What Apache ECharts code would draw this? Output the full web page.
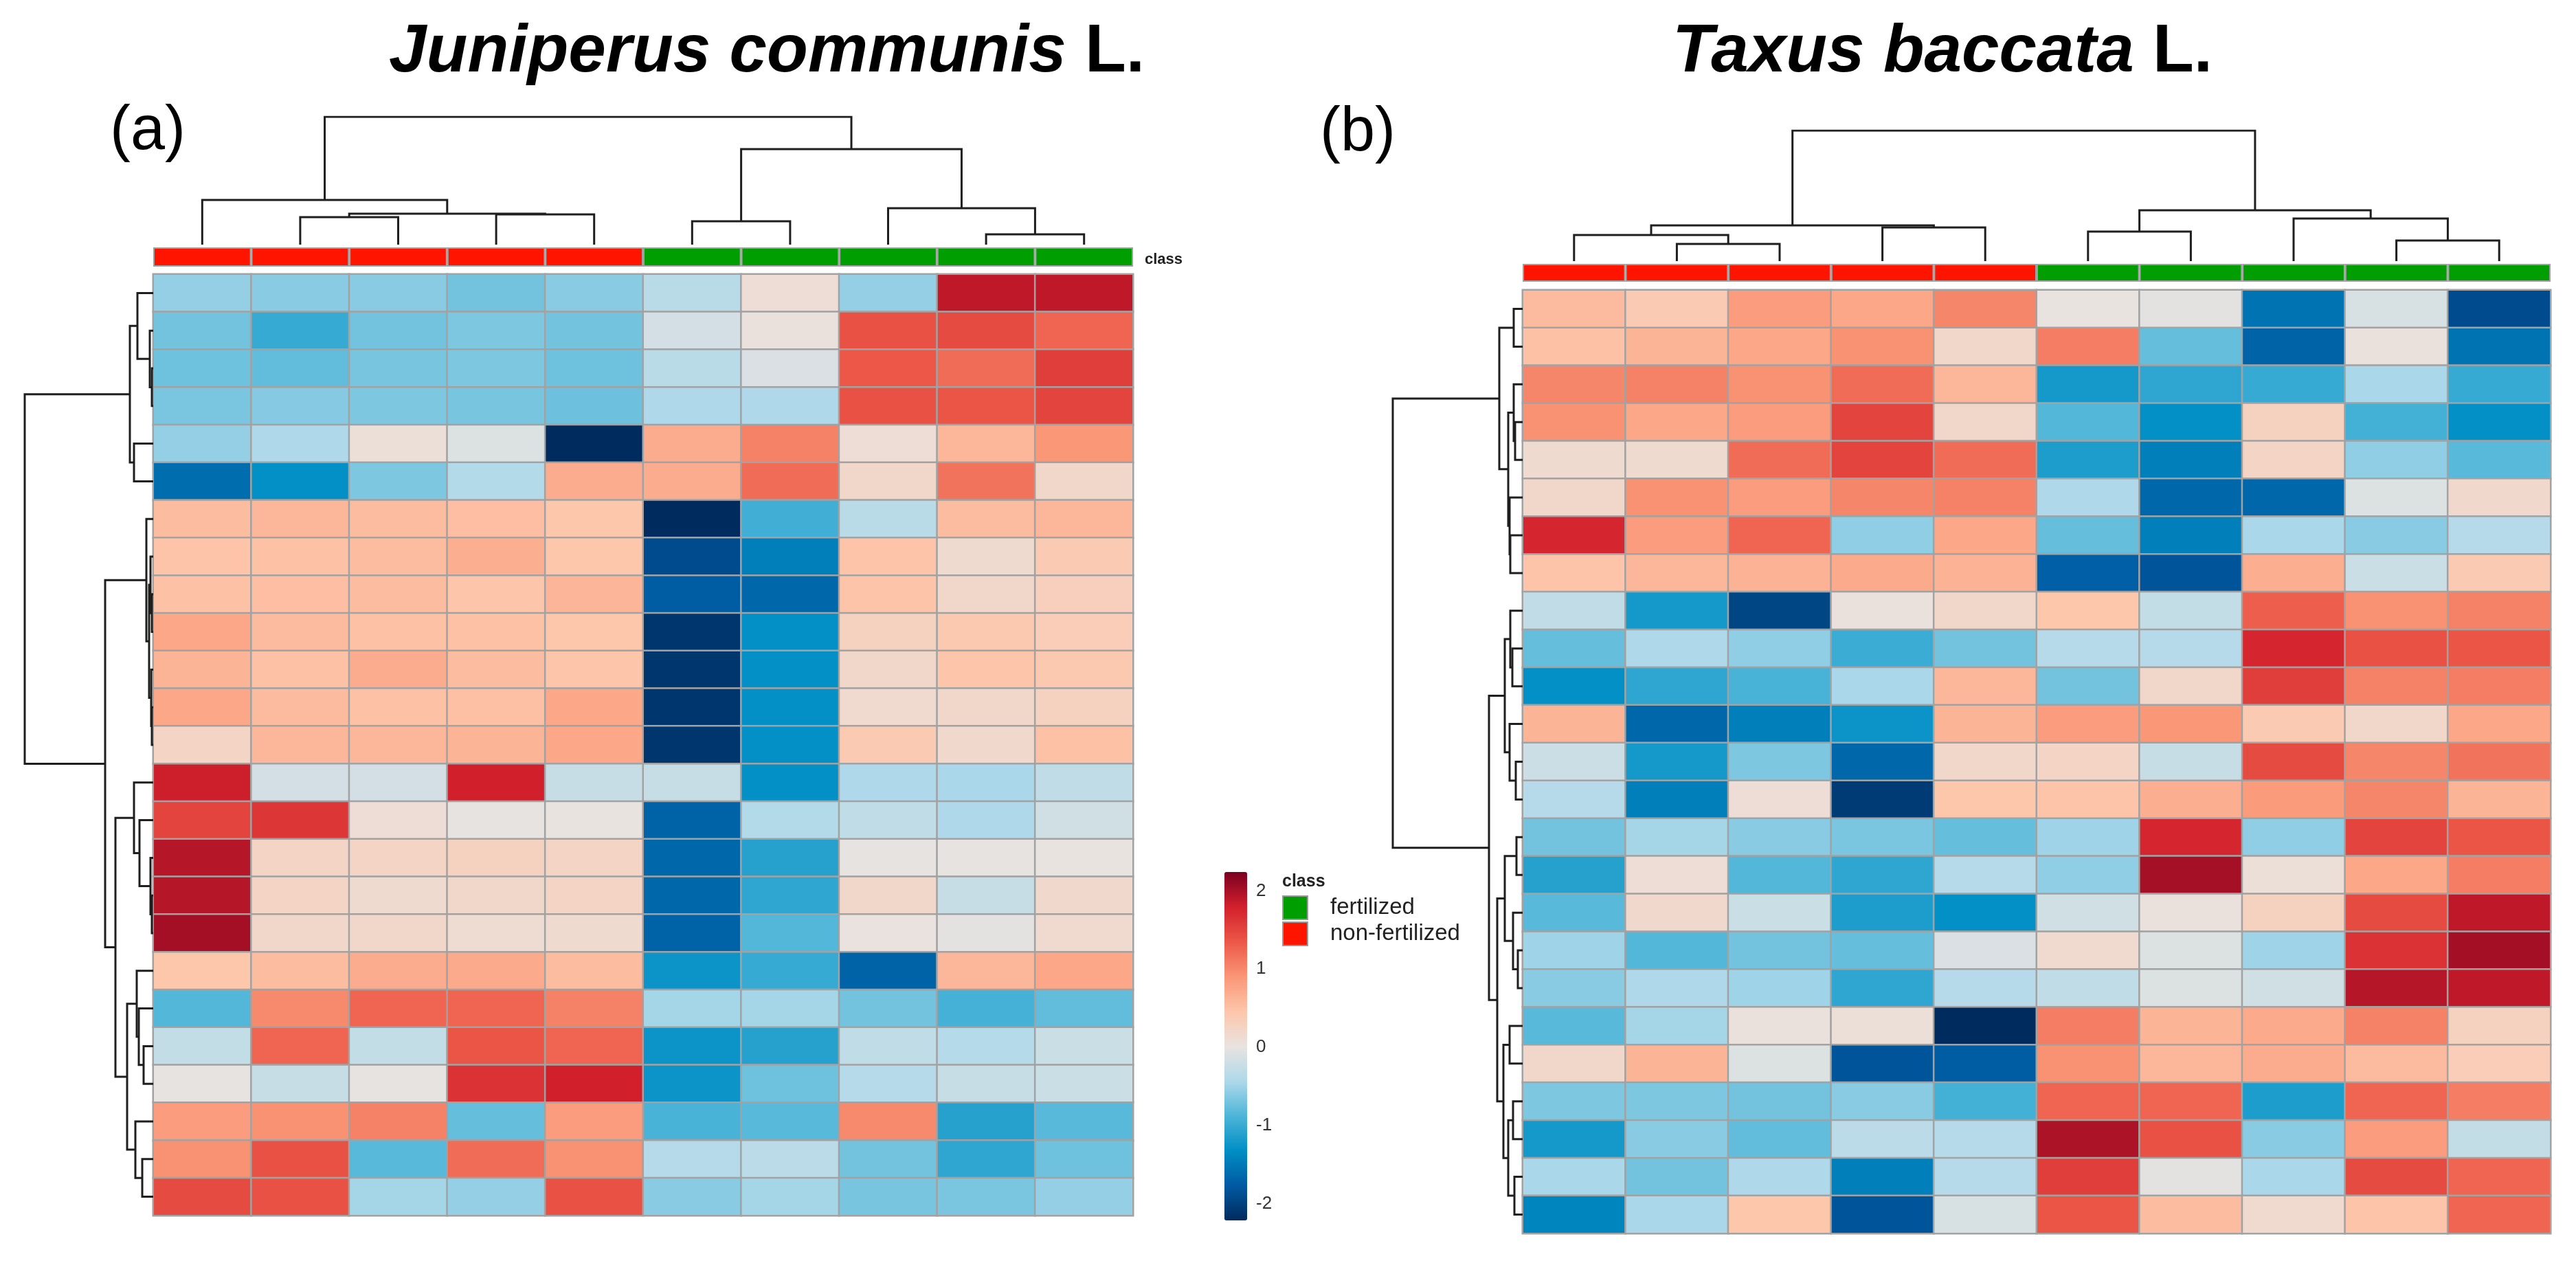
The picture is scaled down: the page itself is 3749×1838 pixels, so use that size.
<!DOCTYPE html>
<html><head><meta charset="utf-8">
<script src="https://cdn.jsdelivr.net/npm/echarts@6/dist/echarts.min.js"></script>
<style>html,body{margin:0;padding:0;background:#fff}#c{width:3749px;height:1838px}</style>
</head><body><div id="c"></div>
<script>
// ---------------- DATA ----------------
const sampleIds = ['S1','S2','S3','S4','S5','S6','S7','S8','S9','S10'];
const sampleClass = ['non-fertilized','non-fertilized','non-fertilized','non-fertilized','non-fertilized',
                     'fertilized','fertilized','fertilized','fertilized','fertilized'];
const featureIds = ['F1','F2','F3','F4','F5','F6','F7','F8','F9','F10','F11','F12','F13','F14','F15',
                    'F16','F17','F18','F19','F20','F21','F22','F23','F24','F25'];
const colorTicks = [-2, -1, 0, 1, 2];
const scaleMin = -2.21, scaleMax = 2.24;
const scaleColors = ['#002a5d','#005aa2','#008ec5','#4db5d8','#aed9ea','#e9e3e0',
                     '#fdc6ab','#fa9676','#ec5747','#d2202c','#7a0020'];

const juniperusValues = [
  [-0.55,-0.6,-0.6,-0.7,-0.6,-0.35,0.1,-0.55,1.89,1.89],
  [-0.7,-1.0,-0.7,-0.65,-0.7,-0.15,0.05,1.4,1.45,1.25],
  [-0.72,-0.78,-0.68,-0.65,-0.72,-0.35,-0.1,1.35,1.2,1.55],
  [-0.67,-0.62,-0.65,-0.68,-0.73,-0.42,-0.42,1.4,1.37,1.5],
  [-0.55,-0.42,0.08,-0.08,-2.2,0.7,1.05,0.1,0.6,0.9],
  [-1.6,-1.3,-0.65,-0.4,0.7,0.7,1.2,0.2,1.15,0.2],
  [0.55,0.6,0.55,0.53,0.45,-2.2,-0.95,-0.35,0.55,0.6],
  [0.48,0.5,0.55,0.68,0.45,-1.9,-1.45,0.48,0.15,0.4],
  [0.5,0.53,0.55,0.47,0.62,-1.75,-1.65,0.48,0.2,0.32],
  [0.75,0.57,0.5,0.5,0.45,-2.1,-1.3,0.28,0.42,0.36],
  [0.63,0.5,0.7,0.55,0.46,-2.1,-1.3,0.2,0.46,0.42],
  [0.75,0.57,0.5,0.52,0.75,-2.1,-1.3,0.17,0.2,0.28],
  [0.25,0.6,0.6,0.63,0.75,-2.1,-1.3,0.4,0.18,0.5],
  [1.82,-0.15,-0.15,1.8,-0.25,-0.25,-1.3,-0.42,-0.45,-0.3],
  [1.5,1.62,0.1,0,0.02,-1.7,-0.4,-0.3,-0.42,-0.18],
  [1.94,0.25,0.25,0.28,0.25,-1.65,-1.1,0,0,0.02],
  [1.94,0.25,0.15,0.2,0.25,-1.65,-1.05,0.2,-0.25,0.18],
  [2.03,0.2,0.2,0.12,0.15,-1.7,-0.85,0.03,-0.03,0.17],
  [0.45,0.55,0.7,0.72,0.55,-1.25,-1.0,-1.7,0.6,0.75],
  [-0.85,1.0,1.25,1.25,1.05,-0.47,-0.47,-0.7,-0.92,-0.78],
  [-0.27,1.25,-0.27,1.37,1.25,-1.25,-1.1,-0.3,-0.38,-0.22],
  [0,-0.25,0,1.65,1.8,-1.25,-0.72,-0.37,-0.25,-0.22],
  [0.85,0.93,1.05,-0.76,0.85,-0.9,-0.82,1.0,-1.1,-0.82],
  [0.93,1.4,-0.82,1.2,0.93,-0.37,-0.33,-0.7,-1.05,-0.72],
  [1.45,1.4,-0.47,-0.55,1.4,-0.6,-0.47,-0.68,-0.67,-0.55]
];

const taxusValues = [
  [0.57,0.4,0.85,0.75,1.02,0.02,-0.03,-1.55,-0.12,-1.9],
  [0.5,0.63,0.75,0.93,0.2,1.08,-0.76,-1.7,0.05,-1.55],
  [1.02,1.05,0.93,1.2,0.6,-1.2,-1.05,-1.0,-0.45,-1.0],
  [0.93,0.75,0.85,1.5,0.2,-0.85,-1.3,0.28,-0.93,-1.3],
  [0.15,0.15,1.2,1.5,1.2,-1.15,-1.45,0.25,-0.57,-0.82],
  [0.2,0.93,0.85,1.02,1.05,-0.42,-1.65,-1.65,-0.08,0.18],
  [1.75,0.85,1.25,-0.57,0.75,-0.76,-1.45,-0.45,-0.6,-0.37],
  [0.48,0.6,0.65,0.72,0.65,-1.72,-1.82,0.68,-0.22,0.4],
  [-0.28,-1.2,-1.95,0.05,0.2,0.45,-0.27,1.3,0.93,1.05],
  [-0.76,-0.42,-0.57,-0.98,-0.7,-0.37,-0.37,1.75,1.4,1.37],
  [-1.3,-1.05,-0.9,-0.45,0.6,-0.7,0.2,1.55,1.05,1.08],
  [0.63,-1.65,-1.45,-1.25,0.63,0.85,0.9,0.4,0.2,0.75],
  [-0.2,-1.2,-0.65,-1.65,0.2,0.25,-0.25,1.45,1.02,1.15],
  [-0.37,-1.45,0.1,-2.05,0.45,0.48,0.68,0.86,1.02,0.63],
  [-0.7,-0.47,-0.6,-0.67,-0.76,-0.5,1.75,-0.57,1.5,1.37],
  [-1.1,0.1,-0.85,-1.05,-0.37,-0.57,2.02,0.08,0.75,1.08],
  [-0.82,0.18,-0.22,-1.15,-1.3,-0.18,0.04,0.28,1.45,1.89],
  [-0.5,-0.85,-0.7,-0.76,-0.1,0.17,-0.08,-0.5,1.65,2.03],
  [-0.6,-0.42,-0.5,-1.05,-0.37,-0.3,-0.08,-0.18,1.94,1.89],
  [-0.82,-0.47,0.04,0.08,-2.2,1.08,0.63,0.72,1.05,0.28],
  [0.2,0.63,-0.08,-1.82,-1.75,0.93,0.6,0.7,0.57,0.36],
  [-0.65,-0.65,-0.7,-0.6,-0.93,1.25,1.25,-1.15,1.25,1.08],
  [-1.2,-0.6,-0.78,-0.33,-0.37,1.98,1.4,-0.6,0.85,-0.27],
  [-0.45,-0.7,-0.42,-1.45,-0.37,1.55,-0.03,-0.45,1.45,1.25],
  [-1.4,-0.45,0.45,-1.82,-0.12,1.37,0.55,0.17,0.48,1.25]
];

// dendrogram merges: [childA, childB, height]; ids < n are leaves, n+k is the k-th merge
const juniperusColMerges = [[1,2,40],[3,4,44],[10,11,45],[0,12,65],[8,9,15],[7,14,53],[5,6,34],[16,15,139],[13,17,186]];
const juniperusRowMerges = [
  [2,3,2],[1,25,5],[0,26,23],[4,5,28],[27,28,34],
  [8,9,2],[7,30,4],[11,12,2],[10,32,3],[31,33,6],[6,34,10],
  [16,17,2],[15,36,4],[14,37,20],[13,38,28],
  [20,21,14],[19,40,21],[18,41,24],[23,24,16],[22,43,26],[42,44,38],
  [39,45,55],[35,46,70],[29,47,187]
];
const taxusColMerges = [[1,2,25],[0,10,38],[3,4,49],[11,12,52],[5,6,43],[8,9,30],[7,15,62],[14,16,74],[13,17,190]];
const taxusRowMerges = [
  [0,1,13],[3,4,11],[2,26,13],[6,7,18],[5,28,19],[27,29,21],[25,30,34],
  [9,10,15],[8,32,18],[12,13,10],[11,34,19],[33,35,26],
  [14,15,9],[17,18,7],[16,38,14],[37,39,26],
  [19,20,19],[21,22,14],[23,24,12],[42,43,21],[41,44,28],[40,45,37],
  [36,46,49],[31,47,189]
];

// ---------------- LAYOUT ----------------
const fontFamily = "'Liberation Sans', Arial, Helvetica, sans-serif";
const layoutA = {hm:{left:223,top:399,width:1426,height:1370}, barTop:360, barH:28, dendTop:170, dendH:186, rowLeft:36, rowW:187};
const layoutB = {hm:{left:2216,top:422,width:1496,height:1373}, barTop:384, barH:26, dendTop:190, dendH:190, rowLeft:2027, rowW:189};
const classColors = {'fertilized':'#009e00','non-fertilized':'#ff1400'};

function dendroSegments(merges, n, orient) {
  const pos = [], hgt = [];
  for (let i = 0; i < n; i++) { pos[i] = i; hgt[i] = 0; }
  return merges.map((m, k) => {
    const [a, b, h] = m, id = n + k;
    pos[id] = (pos[a] + pos[b]) / 2; hgt[id] = h;
    let pts = [[pos[a], hgt[a]], [pos[a], h], [pos[b], h], [pos[b], hgt[b]]];
    if (orient === 'row') pts = pts.map(p => [p[1], p[0]]);
    return {coords: pts};
  });
}

const grids = [], xAxes = [], yAxes = [], series = [];
function addPanel(p, values, colMerges, rowMerges) {
  const gi = grids.length;
  grids.push({left:p.hm.left, top:p.hm.top, width:p.hm.width, height:p.hm.height});
  grids.push({left:p.hm.left, top:p.barTop, width:p.hm.width, height:p.barH});
  grids.push({left:p.hm.left, top:p.dendTop, width:p.hm.width, height:p.dendH});
  grids.push({left:p.rowLeft, top:p.hm.top, width:p.rowW, height:p.hm.height});
  xAxes.push({type:'category', data:sampleIds, gridIndex:gi, show:false});
  xAxes.push({type:'category', data:sampleIds, gridIndex:gi+1, show:false});
  xAxes.push({type:'value', min:-0.5, max:sampleIds.length-0.5, gridIndex:gi+2, show:false});
  xAxes.push({type:'value', min:0, max:p.rowW, inverse:true, gridIndex:gi+3, show:false});
  yAxes.push({type:'category', data:featureIds, inverse:true, gridIndex:gi, show:false});
  yAxes.push({type:'value', min:0, max:1, gridIndex:gi+1, show:false});
  yAxes.push({type:'value', min:0, max:p.dendH, gridIndex:gi+2, show:false});
  yAxes.push({type:'value', min:-0.5, max:featureIds.length-0.5, inverse:true, gridIndex:gi+3, show:false});
  const hmData = [];
  values.forEach((row, r) => row.forEach((v, c) => hmData.push([c, r, v])));
  series.push({type:'heatmap', xAxisIndex:gi, yAxisIndex:gi, data:hmData, silent:true,
    itemStyle:{borderColor:'#a2a2a2', borderWidth:2.5}, emphasis:{disabled:true}});
  ['fertilized','non-fertilized'].forEach(cls => {
    series.push({type:'bar', name:cls, xAxisIndex:gi+1, yAxisIndex:gi+1, barWidth:'100%', barGap:'-100%', silent:true,
      data: sampleClass.map(s => s === cls ? 1 : '-'),
      itemStyle:{color:classColors[cls], borderColor:'#a0a0a0', borderWidth:2}});
  });
  const lineStyle = {color:'#1e1e1e', width:3, opacity:1};
  series.push({type:'lines', coordinateSystem:'cartesian2d', xAxisIndex:gi+2, yAxisIndex:gi+2, polyline:true, silent:true,
    lineStyle, data: dendroSegments(colMerges, sampleIds.length, 'col')});
  series.push({type:'lines', coordinateSystem:'cartesian2d', xAxisIndex:gi+3, yAxisIndex:gi+3, polyline:true, silent:true,
    lineStyle, data: dendroSegments(rowMerges, featureIds.length, 'row')});
  return gi;
}
addPanel(layoutA, juniperusValues, juniperusColMerges, juniperusRowMerges);
addPanel(layoutB, taxusValues, taxusColMerges, taxusRowMerges);

// colour-bar axis
const cbi = grids.length;
const cb = {left:1782, top:1269, width:33, height:507};
grids.push({left:cb.left, top:cb.top, width:cb.width, height:cb.height});
xAxes.push({type:'value', gridIndex:cbi, show:false, min:0, max:1});
yAxes.push({type:'value', gridIndex:cbi, position:'right', min:scaleMin, max:scaleMax,
  axisLine:{show:false}, axisTick:{show:false}, splitLine:{show:false},
  axisLabel:{customValues:colorTicks, margin:13,
    color:'#333', fontSize:26, fontFamily,
    formatter: v => (colorTicks.indexOf(Math.round(v*100)/100) >= 0 ? String(Math.round(v)) : '')}});
series.push({type:'scatter', xAxisIndex:cbi, yAxisIndex:cbi, data:[], silent:true});

const titleRich = {
  i:{fontSize:98, fontWeight:'bold', fontStyle:'italic', fontFamily, color:'#000'},
  n:{fontSize:98, fontWeight:'bold', fontFamily, color:'#000'}
};
const option = {
  animation:false,
  backgroundColor:'#fff',
  title:[
    {text:'{i|Juniperus communis }{n|L.}', left:1111, textAlign:'center', top:23, textStyle:{rich:titleRich}},
    {text:'{i|Taxus baccata }{n|L.}', left:2822, textAlign:'center', top:23, textStyle:{rich:titleRich}},
    {text:'(a)', left:155, top:142, textStyle:{fontSize:90, fontWeight:'normal', fontFamily, color:'#000'}},
    {text:'(b)', left:1916, top:144, textStyle:{fontSize:90, fontWeight:'normal', fontFamily, color:'#000'}},
    {text:'class', left:1661, top:362, textStyle:{fontSize:22, fontWeight:'bold', fontFamily, color:'#222'}},
    {text:'class', left:1861, top:1266, textStyle:{fontSize:25, fontWeight:'bold', fontFamily, color:'#222'}}
  ],
  grid:grids, xAxis:xAxes, yAxis:yAxes,
  visualMap:{type:'continuous', min:scaleMin, max:scaleMax, seriesIndex:[0,5], calculable:false,
    left:cb.left, top:cb.top, itemWidth:cb.width, itemHeight:cb.height, padding:0, orient:'vertical',
    inRange:{color:scaleColors}, hoverLink:false},
  legend:{orient:'vertical', left:1861, top:1298, itemWidth:36, itemHeight:34, itemGap:2, icon:'rect',
    data:['fertilized','non-fertilized'], selectedMode:false,
    itemStyle:{borderColor:'#9a9a9a', borderWidth:2},
    textStyle:{fontSize:33, fontFamily, color:'#222', padding:[0,0,0,28]}},
  series
};
const chart = echarts.init(document.getElementById('c'), null, {renderer:'canvas'});
chart.setOption(option);
</script></body></html>
